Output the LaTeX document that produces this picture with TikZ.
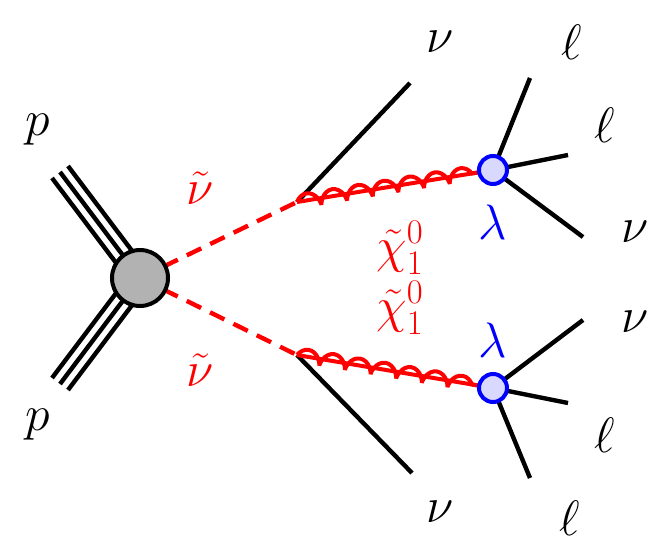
\documentclass[tikz,border=0pt]{standalone}
\usepackage{amsmath}
\usetikzlibrary{positioning,calc,decorations.pathmorphing}
\begin{document}
\begin{tikzpicture}[x=0.5pt,y=-0.5pt,
        blobnode/.style={circle, draw=black, fill=black!30, line width=2pt, minimum size=28pt, inner sep=0pt},
        vertexnode/.style={circle, draw=blue, fill=blue!15, line width=2pt, minimum size=14pt, inner sep=0pt},
        legline/.style={line width=2.2pt},
        sparticle/.style={red, line width=2.2pt, dash pattern=on 8pt off 5pt},
        gaugino/.style={red, line width=2pt, postaction={draw, red, line width=2pt, decorate, decoration={coil, aspect=0.6, segment length=13pt, amplitude=3.5pt}}},
        lbl/.style={font=\fontsize{26}{28}\selectfont},
]
        \useasboundingbox (0,0) rectangle (664,557);
        \coordinate (blobc) at (140,278);
        \coordinate (pup) at (60,172);
        \coordinate (pdown) at (60,384);
        \coordinate (vup) at (297,202);
        \coordinate (vdown) at (297,355);

        % incoming protons
        \foreach \o in {-5,0,5} {
            \draw[legline] ($(pup)!\o pt!90:(blobc)$) -- ($(blobc)!\o pt!-90:(pup)$);
            \draw[legline] ($(pdown)!\o pt!90:(blobc)$) -- ($(blobc)!\o pt!-90:(pdown)$);
        }
        \node[lbl] (pupl) at (38,130) {$p$};
        \node[lbl] (pdownl) at (38,425) {$p$};

        % sneutrinos
        \draw[sparticle] (blobc) -- (vup);
        \draw[sparticle] (blobc) -- (vdown);
        \node[blobnode] (blob) at (blobc) {};
        \node[lbl, red] (snup) at (200,188) {$\tilde{\nu}$};
        \node[lbl, red] (sndown) at (200,370) {$\tilde{\nu}$};

        % outgoing legs
        \coordinate (nuup) at (410,83);
        \coordinate (nudown) at (412,473);
        \draw[legline] (vup) -- (nuup);
        \draw[legline] (vdown) -- (nudown);
        \node[lbl] (nuupl) at (440,42) {$\nu$};
        \node[lbl] (nudownl) at (440,512) {$\nu$};

        % neutralinos
        \coordinate (lamupc) at (493,170);
        \coordinate (lamdownc) at (493,388);
        \draw[gaugino] (vup) -- (lamupc);
        \draw[gaugino] (vdown) -- (lamdownc);
        \node[lbl, red] (chiup) at (400,248) {$\tilde{\chi}^0_1$};
        \node[lbl, red] (chidown) at (400,308) {$\tilde{\chi}^0_1$};

        \coordinate (ua) at (530,78);
        \coordinate (ub) at (568,155);
        \coordinate (uc) at (583,237);
        \coordinate (da) at (583,320);
        \coordinate (db) at (568,403);
        \coordinate (dc) at (530,478);
        \foreach \e in {ua,ub,uc} \draw[legline] (lamupc) -- (\e);
        \foreach \e in {da,db,dc} \draw[legline] (lamdownc) -- (\e);
        \node[vertexnode] (lamup) at (lamupc) {};
        \node[vertexnode] (lamdown) at (lamdownc) {};
        \node[lbl, blue] (lamupl) at (493,222) {$\lambda$};
        \node[lbl, blue] (lamdownl) at (493,340) {$\lambda$};
        \node[lbl] (ual) at (572,42) {$\ell$};
        \node[lbl] (ubl) at (605,125) {$\ell$};
        \node[lbl] (ucl) at (635,232) {$\nu$};
        \node[lbl] (dal) at (635,322) {$\nu$};
        \node[lbl] (dbl) at (605,435) {$\ell$};
        \node[lbl] (dcl) at (570,518) {$\ell$};
\end{tikzpicture}
\end{document}
